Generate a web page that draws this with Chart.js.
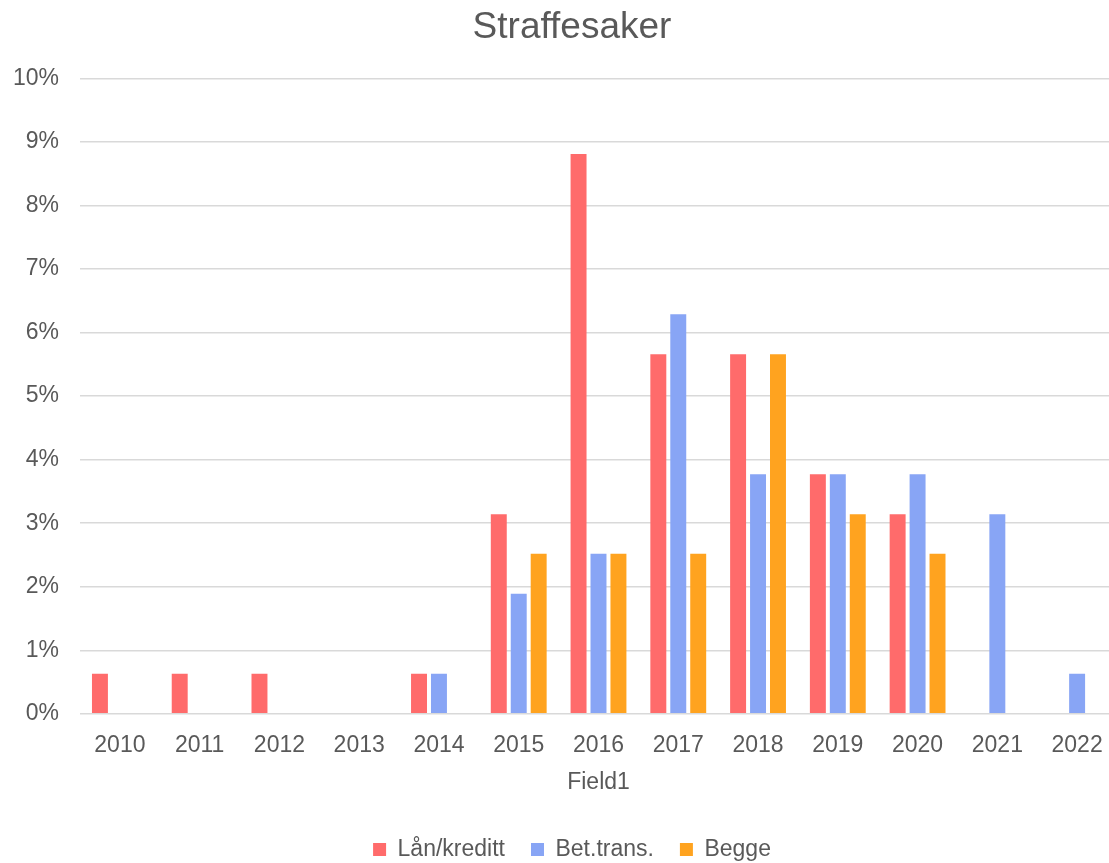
<!DOCTYPE html>
<html>
<head>
<meta charset="utf-8">
<script src="https://cdn.jsdelivr.net/npm/chart.js@4.4.0/dist/chart.umd.min.js"></script>
<style>
  html, body { margin: 0; padding: 0; background: #fff; overflow: hidden; }
  #wrap { width: 1109px; height: 863px; overflow: hidden; }
</style>
</head>
<body>
<div id="wrap"><canvas id="chart" width="1142" height="863"></canvas></div>
<script>
// år på x-aksen
const years = ["2010", "2011", "2012", "2013", "2014", "2015", "2016", "2017", "2018", "2019", "2020", "2021", "2022"];
// andel i prosent
const laanKreditt = [0.63, 0.63, 0.63, 0, 0.63, 3.14, 8.81, 5.66, 5.66, 3.77, 3.14, 0, 0];
const betTrans = [0, 0, 0, 0, 0.63, 1.89, 2.52, 6.29, 3.77, 3.77, 3.77, 3.14, 0.63];
const begge = [0, 0, 0, 0, 0, 2.52, 2.52, 2.52, 5.66, 3.14, 2.52, 0, 0];

const grey = "#595959";
Chart.defaults.font.family = "'Liberation Sans', Arial, sans-serif";
Chart.defaults.color = grey;

var ctx = document.getElementById("chart").getContext("2d");
var myChart = new Chart(ctx, {
  type: 'bar',
  data: {
    labels: years,
    datasets: [
      { label: "Lån/kreditt", data: laanKreditt, backgroundColor: "#ff6b6b" },
      { label: "Bet.trans.", data: betTrans, backgroundColor: "#88a5f5" },
      { label: "Begge", data: begge, backgroundColor: "#ffa31f" }
    ]
  },
  options: {
    responsive: false,
    animation: false,
    layout: { padding: { left: 12, right: 10, top: 6, bottom: -8 } },
    datasets: { bar: { categoryPercentage: 0.75, barPercentage: 0.8 } },
    plugins: {
      title: {
        display: true,
        text: "Straffesaker",
        font: { size: 37, weight: 'normal' },
        color: grey,
        padding: { top: 0, bottom: 28 }
      },
      legend: {
        position: 'bottom',
        labels: {
          boxWidth: 13,
          boxHeight: 13,
          padding: 26,
          font: { size: 23 },
          color: grey
        }
      },
      tooltip: { enabled: false }
    },
    scales: {
      x: {
        grid: { display: false, drawTicks: false },
        border: { display: false },
        ticks: { font: { size: 23 }, padding: 18, color: grey },
        title: { display: true, text: "Field1", font: { size: 23 }, color: grey, padding: { top: -9, bottom: 16 } }
      },
      y: {
        min: 0,
        max: 10,
        afterFit: function (scale) { scale.width = 68; },
        grid: { color: "#d9d9d9", lineWidth: 1.5, drawTicks: false },
        border: { display: false },
        ticks: {
          stepSize: 1,
          padding: 21,
          font: { size: 23 },
          color: grey,
          callback: function (v) { return v + "%"; }
        }
      },
      // tom akse til høyre, bare for å gi luft
      yRight: {
        position: 'right',
        afterFit: function (scale) { scale.width = 15; },
        grid: { display: false, drawTicks: false },
        border: { display: false },
        ticks: { display: false }
      }
    }
  }
});
</script>
</body>
</html>
